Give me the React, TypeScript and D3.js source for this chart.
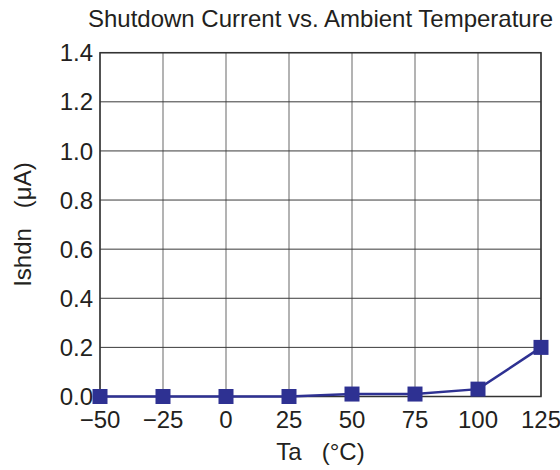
import React from "react";
import * as d3 from "d3";

const temps = [-50, -25, 0, 25, 50, 75, 100, 125];
const ishdn = [0, 0, 0, 0, 0.01, 0.01, 0.03, 0.2];
const xTicks = [-50, -25, 0, 25, 50, 75, 100, 125];
const yTicks = [0, 0.2, 0.4, 0.6, 0.8, 1.0, 1.2, 1.4];
const title = "Shutdown Current vs. Ambient Temperature";
const xLabel = "Ta   (°C)";
const yLabel = "Ishdn   (μA)";

const W = 560, H = 470;
const L = 100, R = 541, T = 52.7, B = 396.5;
const FONT = "'Liberation Sans', Arial, Helvetica, sans-serif";
const BLUE = "#2e3192";
const TXT = "#231f20";

export default function App() {
  const x = d3.scaleLinear().domain([-50, 125]).range([L, R]);
  const y = d3.scaleLinear().domain([0, 1.4]).range([B, T]);
  const line = d3.line<number>().x((_, i) => x(temps[i])).y((d) => y(d));
  const ms = 15;
  return (
    <svg width={W} height={H} style={{ position: "absolute", left: 0, top: 0, background: "#fff" }}>
      {xTicks.map((t) => (
        <line key={"vx" + t} x1={x(t)} x2={x(t)} y1={T} y2={B} stroke="#8a8a8a" strokeWidth={1.3} />
      ))}
      {yTicks.map((t) => (
        <line key={"hy" + t} x1={L} x2={R} y1={y(t)} y2={y(t)} stroke="#3a3a3a" strokeWidth={1} />
      ))}
      <rect x={L} y={T} width={R - L} height={B - T} fill="none" stroke="#333" strokeWidth={1.5} />
      <path d={line(ishdn) || ""} fill="none" stroke={BLUE} strokeWidth={2.5} />
      {ishdn.map((v, i) => (
        <rect key={"m" + i} x={x(temps[i]) - ms / 2} y={y(v) - ms / 2} width={ms} height={ms} fill={BLUE} />
      ))}
      {yTicks.map((t) => (
        <text key={"yl" + t} x={L - 7} y={y(t)} dy="0.36em" textAnchor="end" fontFamily={FONT} fontSize={24} fill={TXT}>
          {d3.format(".1f")(t)}
        </text>
      ))}
      {xTicks.map((t) => (
        <text key={"xl" + t} x={x(t)} y={428} textAnchor="middle" fontFamily={FONT} fontSize={24} fill={TXT}>
          {t < 0 ? "\u2212" + Math.abs(t) : String(t)}
        </text>
      ))}
      <text x={(L + R) / 2} y={460} textAnchor="middle" fontFamily={FONT} fontSize={24} fill={TXT} style={{ whiteSpace: "pre" }}>
        {xLabel}
      </text>
      <text
        transform={`translate(31,${(T + B) / 2}) rotate(-90)`}
        textAnchor="middle"
        fontFamily={FONT}
        fontSize={24}
        fill={TXT}
        style={{ whiteSpace: "pre" }}
      >
        {yLabel}
      </text>
      <text x={(L + R) / 2} y={27} textAnchor="middle" fontFamily={FONT} fontSize={24} fill={TXT}>
        {title}
      </text>
    </svg>
  );
}
